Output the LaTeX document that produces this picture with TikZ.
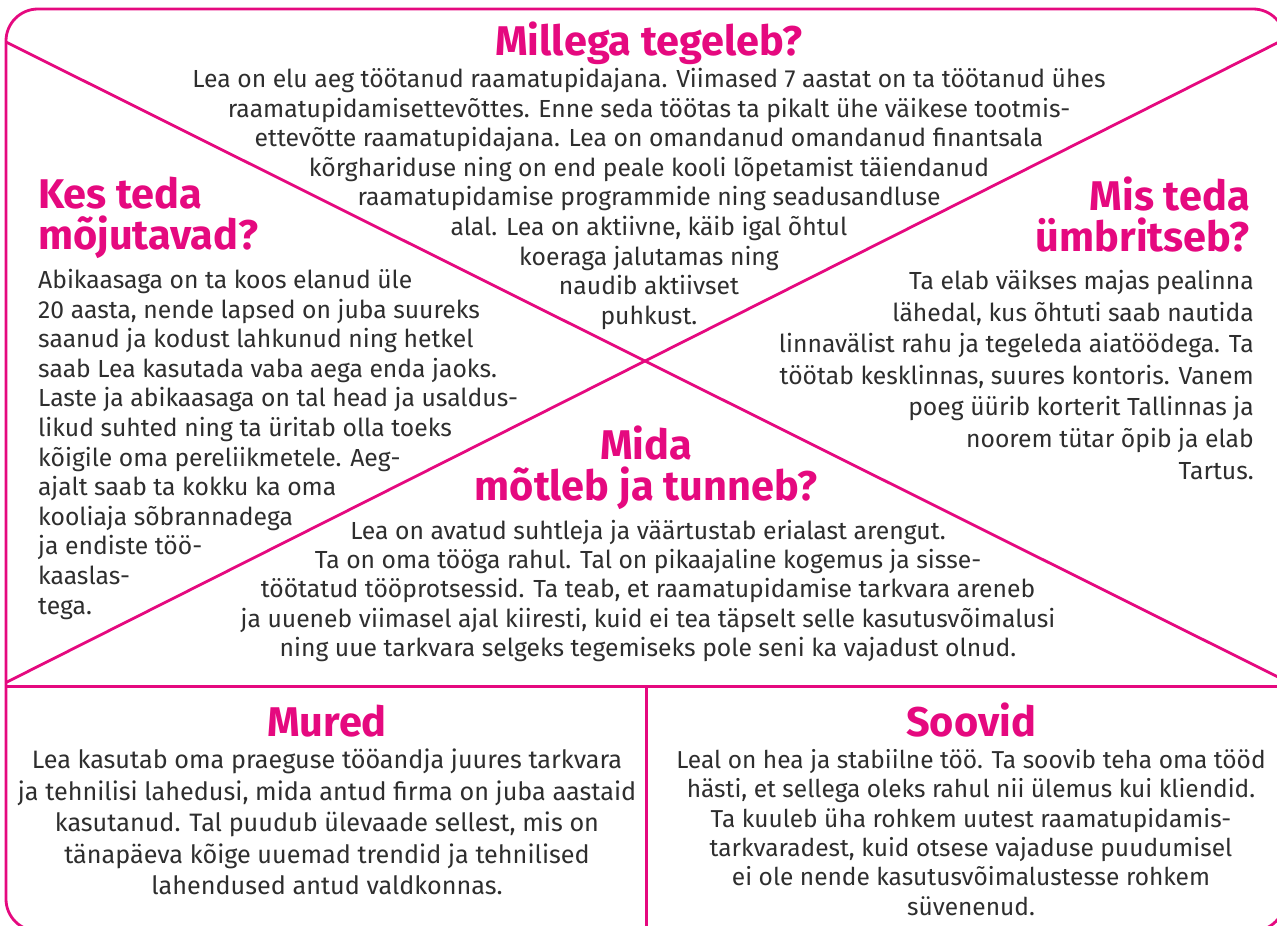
\documentclass[tikz,border=0pt]{standalone}
\usepackage{fontspec}
\setmainfont{Fira Sans}

\definecolor{mapink}{HTML}{E5097F}
\definecolor{mapink text}{HTML}{2E2E2E}

\tikzset{
  frame line/.style={draw=mapink,line width=2.8pt},
  heading/.style={text=mapink,font=\fontsize{41.5}{41}\selectfont\bfseries,inner sep=0pt},
  body/.style={text=mapink text,font=\fontsize{24.7}{29.6}\selectfont,inner sep=0pt}
}

\begin{document}
\begin{tikzpicture}[x=1pt,y=-1pt]
\useasboundingbox (0,0) rectangle (1277,926);

% frame and dividers
\coordinate (top left) at (6,42);
\coordinate (bottom left) at (6,682.5);
\coordinate (top right) at (1285,39);
\coordinate (bottom right) at (1285,680.5);
\coordinate (split left) at (6,686.5);
\coordinate (split right) at (1285,686.5);
\coordinate (split top) at (646.5,686.5);
\coordinate (split bottom) at (646.5,931);

\draw[frame line,rounded corners=32pt] (6,9) rectangle (1285,931);
\draw[frame line] (top left) -- (bottom right);
\draw[frame line] (bottom left) -- (top right);
\draw[frame line] (split left) -- (split right);
\draw[frame line] (split top) -- (split bottom);

% top: Millega tegeleb?
\node[heading,anchor=base](millega title) at (649,55) {Millega tegeleb?};
\node[body,align=center,anchor=north](millega text) at (649,68) {Lea on elu aeg töötanud raamatupidajana. Viimased 7 aastat on ta töötanud ühes\\
raamatupidamisettevõttes. Enne seda töötas ta pikalt ühe väikese tootmis-\\
ettevõtte raamatupidajana. Lea on omandanud omandanud finantsala\\
kõrghariduse ning on end peale kooli lõpetamist täiendanud\\
raamatupidamise programmide ning seadusandluse\\
alal. Lea on aktiivne, käib igal õhtul\\
koeraga jalutamas ning\\
naudib aktiivset\\
puhkust.};

% left: Kes teda mõjutavad?
\node[heading,align=left,anchor=north west](kes title) at (38,177) {Kes teda\\mõjutavad?};
\node[body,align=left,anchor=north west](kes text) at (38,269) {Abikaasaga on ta koos elanud üle\\
20 aasta, nende lapsed on juba suureks\\
saanud ja kodust lahkunud ning hetkel\\
saab Lea kasutada vaba aega enda jaoks.\\
Laste ja abikaasaga on tal head ja usaldus-\\
likud suhted ning ta üritab olla toeks\\
kõigile oma pereliikmetele. Aeg-\\
ajalt saab ta kokku ka oma\\
kooliaja sõbrannadega\\
ja endiste töö-\\
kaaslas-\\
tega.};

% right: Mis teda ümbritseb?
\node[heading,align=right,anchor=north east](mis title) at (1250,177) {Mis teda\\ümbritseb?};
\node[body,font=\fontsize{24.7}{31.6}\selectfont,align=right,anchor=north east](mis text) at (1254,270) {Ta elab väikses majas pealinna\\
lähedal, kus õhtuti saab nautida\\
linnavälist rahu ja tegeleda aiatöödega. Ta\\
töötab kesklinnas, suures kontoris. Vanem\\
poeg üürib korterit Tallinnas ja\\
noorem tütar õpib ja elab\\
Tartus.};

% middle: Mida mõtleb ja tunneb?
\node[heading,align=center,anchor=north](mida title) at (646,426) {Mida\\mõtleb ja tunneb?};
\node[body,font=\fontsize{24.7}{29.2}\selectfont,align=center,anchor=north](mida text) at (648,520) {Lea on avatud suhtleja ja väärtustab erialast arengut.\\
Ta on oma tööga rahul. Tal on pikaajaline kogemus ja sisse-\\
töötatud tööprotsessid. Ta teab, et raamatupidamise tarkvara areneb\\
ja uueneb viimasel ajal kiiresti, kuid ei tea täpselt selle kasutusvõimalusi\\
ning uue tarkvara selgeks tegemiseks pole seni ka vajadust olnud.};

% bottom left: Mured
\node[heading,anchor=base](mured title) at (327,736) {Mured};
\node[body,font=\fontsize{25.2}{31.5}\selectfont,align=center,anchor=north](mured text) at (327,749) {Lea kasutab oma praeguse tööandja juures tarkvara\\
ja tehnilisi lahedusi, mida antud firma on juba aastaid\\
kasutanud. Tal puudub ülevaade sellest, mis on\\
tänapäeva kõige uuemad trendid ja tehnilised\\
lahendused antud valdkonnas.};

% bottom right: Soovid
\node[heading,anchor=base](soovid title) at (971,736) {Soovid};
\node[body,font=\fontsize{24.5}{29.4}\selectfont,align=center,anchor=north](soovid text) at (971,749) {Leal on hea ja stabiilne töö. Ta soovib teha oma tööd\\
hästi, et sellega oleks rahul nii ülemus kui kliendid.\\
Ta kuuleb üha rohkem uutest raamatupidamis-\\
tarkvaradest, kuid otsese vajaduse puudumisel\\
ei ole nende kasutusvõimalustesse rohkem\\
süvenenud.};

\end{tikzpicture}
\end{document}
